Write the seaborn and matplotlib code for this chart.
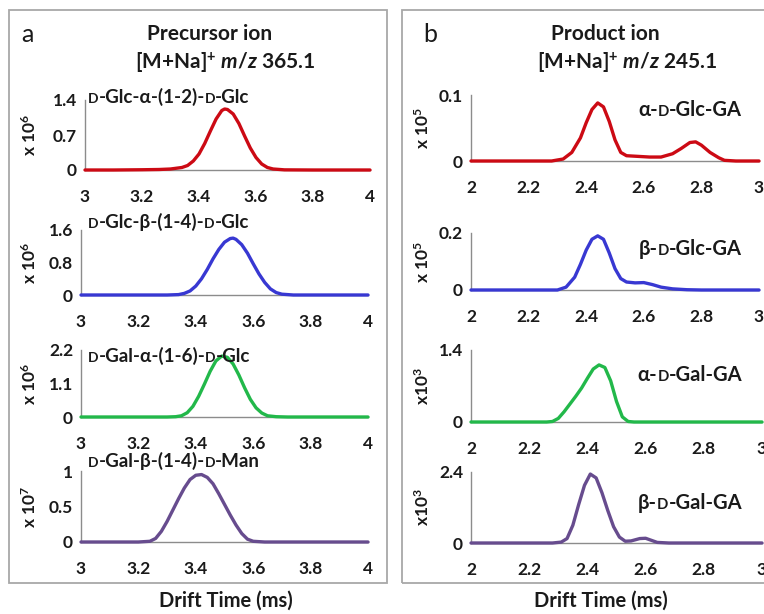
import numpy as np
import pandas as pd
import seaborn as sns
import matplotlib
matplotlib.use("Agg")
import matplotlib.pyplot as plt
from matplotlib.patches import Rectangle
from matplotlib.offsetbox import TextArea, HPacker, AnnotationBbox

# ---------------- data ----------------
# (a) precursor ion [M+Na]+ m/z 365.1, drift time (ms) vs intensity
a1_name = "D-Glc-α-(1-2)-D-Glc"
a1_t = [3.00, 3.10, 3.20, 3.26, 3.30, 3.34, 3.36, 3.38, 3.40, 3.42, 3.44, 3.46, 3.48, 3.49,
        3.50, 3.52, 3.54, 3.56, 3.58, 3.60, 3.62, 3.64, 3.66, 3.70, 3.80, 4.00]
a1_i = [0.0, 0.0, 0.005, 0.01, 0.02, 0.05, 0.09, 0.18, 0.32, 0.53, 0.78, 1.02, 1.19, 1.22,
        1.21, 1.12, 0.93, 0.68, 0.44, 0.25, 0.12, 0.05, 0.02, 0.003, 0.0, 0.0]

a2_name = "D-Glc-β-(1-4)-D-Glc"
a2_t = [3.00, 3.30, 3.34, 3.36, 3.38, 3.40, 3.42, 3.44, 3.46, 3.48, 3.50, 3.52, 3.53, 3.54,
        3.56, 3.58, 3.60, 3.62, 3.64, 3.66, 3.68, 3.70, 3.74, 4.00]
a2_i = [0.0, 0.0, 0.01, 0.04, 0.10, 0.22, 0.40, 0.63, 0.89, 1.12, 1.30, 1.39, 1.40, 1.37,
        1.24, 1.03, 0.77, 0.52, 0.31, 0.15, 0.06, 0.02, 0.0, 0.0]

a3_name = "D-Gal-α-(1-6)-D-Glc"
a3_t = [3.00, 3.30, 3.33, 3.35, 3.37, 3.39, 3.41, 3.43, 3.45, 3.47, 3.49, 3.51, 3.53, 3.55,
        3.57, 3.59, 3.61, 3.63, 3.65, 3.68, 3.72, 4.00]
a3_i = [0.0, 0.0, 0.01, 0.04, 0.14, 0.35, 0.68, 1.08, 1.50, 1.84, 2.00, 1.96, 1.74, 1.38,
        0.96, 0.58, 0.30, 0.13, 0.04, 0.01, 0.0, 0.0]

a4_name = "D-Gal-β-(1-4)-D-Man"
a4_t = [3.00, 3.20, 3.24, 3.26, 3.28, 3.30, 3.32, 3.34, 3.36, 3.38, 3.40, 3.42, 3.44, 3.46,
        3.48, 3.50, 3.52, 3.54, 3.56, 3.58, 3.60, 3.64, 4.00]
a4_i = [0.0, 0.0, 0.01, 0.05, 0.15, 0.29, 0.45, 0.61, 0.76, 0.88, 0.94, 0.95, 0.91, 0.82,
        0.68, 0.53, 0.38, 0.24, 0.12, 0.04, 0.01, 0.0, 0.0]

# (b) product ion [M+Na]+ m/z 245.1
b1_name = "α-D-Glc-GA"
b1_t = [2.00, 2.28, 2.32, 2.35, 2.38, 2.40, 2.42, 2.44, 2.46, 2.48, 2.50, 2.52, 2.54, 2.58,
        2.62, 2.66, 2.70, 2.73, 2.76, 2.78, 2.80, 2.83, 2.86, 2.88, 2.92, 3.00]
b1_i = [0.0, 0.0, 0.003, 0.013, 0.035, 0.058, 0.078, 0.088, 0.082, 0.060, 0.032, 0.013, 0.008,
        0.007, 0.006, 0.006, 0.011, 0.019, 0.028, 0.029, 0.024, 0.013, 0.005, 0.001, 0.0, 0.0]

b2_name = "β-D-Glc-GA"
b2_t = [2.00, 2.30, 2.33, 2.36, 2.38, 2.40, 2.42, 2.44, 2.46, 2.48, 2.50, 2.52, 2.54, 2.57,
        2.60, 2.63, 2.66, 2.70, 2.75, 2.80, 3.00]
b2_i = [0.0, 0.0, 0.01, 0.045, 0.09, 0.14, 0.178, 0.19, 0.178, 0.13, 0.075, 0.04, 0.028,
        0.025, 0.026, 0.019, 0.01, 0.004, 0.001, 0.0, 0.0]

b3_name = "α-D-Gal-GA"
b3_t = [2.00, 2.26, 2.28, 2.30, 2.32, 2.34, 2.36, 2.38, 2.40, 2.42, 2.44, 2.46, 2.48, 2.50,
        2.52, 2.54, 2.56, 3.00]
b3_i = [0.0, 0.0, 0.01, 0.07, 0.20, 0.35, 0.50, 0.66, 0.85, 1.03, 1.11, 1.06, 0.80, 0.40,
        0.10, 0.01, 0.0, 0.0]

b4_name = "β-D-Gal-GA"
b4_t = [2.00, 2.28, 2.31, 2.33, 2.35, 2.37, 2.39, 2.41, 2.43, 2.45, 2.47, 2.49, 2.51, 2.53,
        2.55, 2.58, 2.60, 2.62, 2.64, 2.68, 3.00]
b4_i = [0.0, 0.0, 0.03, 0.15, 0.60, 1.30, 1.95, 2.33, 2.20, 1.70, 1.10, 0.55, 0.20, 0.06,
        0.07, 0.15, 0.16, 0.09, 0.02, 0.0, 0.0]

a_xticks = [3, 3.2, 3.4, 3.6, 3.8, 4]
a_xticklabels = ["3", "3.2", "3.4", "3.6", "3.8", "4"]
b_xticks = [2, 2.2, 2.4, 2.6, 2.8, 3]
b_xticklabels = ["2", "2.2", "2.4", "2.6", "2.8", "3"]

a_yticks = [[0, 0.7, 1.4], [0, 0.8, 1.6], [0, 1.1, 2.2], [0, 0.5, 1]]
a_yticklabels = [["0", "0.7", "1.4"], ["0", "0.8", "1.6"], ["0", "1.1", "2.2"], ["0", "0.5", "1"]]
b_yticks = [[0, 0.1], [0, 0.2], [0, 1.4], [0, 2.4]]
b_yticklabels = [["0", "0.1"], ["0", "0.2"], ["0", "1.4"], ["0", "2.4"]]

a_scales = ["x 10$^6$", "x 10$^6$", "x 10$^6$", "x 10$^7$"]
b_scales = ["x 10$^5$", "x 10$^5$", "x10$^3$", "x10$^3$"]

colors = ["#CC0A14", "#3838D2", "#22B84A", "#674C8E"]

# ---------------- style ----------------
sns.set_theme(style="white")
plt.rcParams["font.family"] = ["Lato", "DejaVu Sans"]
plt.rcParams["font.weight"] = "bold"
plt.rcParams["mathtext.fontset"] = "custom"
plt.rcParams["mathtext.rm"] = "Lato:bold"
plt.rcParams["mathtext.bf"] = "Lato:bold"
plt.rcParams["mathtext.it"] = "Lato:bold:italic"

W, H = 764, 614
fig = plt.figure(figsize=(W / 100, H / 100), dpi=100)
fig.patch.set_facecolor("white")

AXIS_GRAY = "#8C8C8C"
TEXT = "#1A1A1A"
TICK_SIZE = 12.5


def fx(px):
    return px / W


def fy(py):
    return 1 - py / H


def add_axes(x0, x1, ytop, ybot):
    return fig.add_axes([fx(x0), fy(ybot), fx(x1 - x0), (ybot - ytop) / H])


def name_label(text, x_px, y_px, size, ha="left"):
    """Compound name with small-capital D."""
    parts = text.split("D")
    boxes = []
    for k, p in enumerate(parts):
        if k > 0:
            boxes.append(TextArea("D", textprops=dict(fontsize=size * 0.74, fontweight="bold",
                                                      color=TEXT, family=["Lato", "DejaVu Sans"])))
        if p:
            boxes.append(TextArea(p, textprops=dict(fontsize=size, fontweight="bold",
                                                    color=TEXT, family=["Lato", "DejaVu Sans"])))
    pack = HPacker(children=boxes, align="baseline", pad=0, sep=0)
    align = (0, 0.5) if ha == "left" else (0.5, 0.5)
    ab = AnnotationBbox(pack, (fx(x_px), fy(y_px)), xycoords="figure fraction",
                        box_alignment=align, frameon=False, pad=0)
    fig.add_artist(ab)


def style_axes(ax, xlim, xticks, xticklabels, yticks, yticklabels):
    ax.set_xlim(*xlim)
    ax.set_ylim(yticks[0], yticks[-1])
    ax.set_xticks(xticks)
    ax.set_xticklabels(xticklabels)
    ax.set_yticks(yticks)
    ax.set_yticklabels(yticklabels)
    sns.despine(ax=ax)
    for s in ("left", "bottom"):
        ax.spines[s].set_color(AXIS_GRAY)
        ax.spines[s].set_linewidth(1.0)
    ax.tick_params(axis="both", direction="out", length=3.2, width=1.0, color=AXIS_GRAY,
                   labelsize=TICK_SIZE, labelcolor=TEXT)
    ax.tick_params(axis="x", pad=10.5)
    ax.tick_params(axis="y", pad=2.5)
    ax.set_xlabel("")
    ax.set_ylabel("")
    ax.patch.set_alpha(0)


def draw_trace(ax, t, i, color):
    df = pd.DataFrame({"t": t, "i": i})
    sns.lineplot(data=df, x="t", y="i", ax=ax, color=color, linewidth=2.4,
                 sort=False, estimator=None)
    for ln in ax.lines:
        ln.set_clip_on(False)
        ln.set_zorder(3)
        ln.set_solid_capstyle("round")
        ln.set_solid_joinstyle("round")


# ---------------- panel a ----------------
a_traces = [(a1_t, a1_i, a1_name), (a2_t, a2_i, a2_name), (a3_t, a3_i, a3_name), (a4_t, a4_i, a4_name)]
a_boxes = [(85, 370, 100, 170), (81, 368, 230, 295), (81, 368, 350, 417), (81, 368, 471, 542)]
a_name_y = [97, 222, 356, 461]
for k, ((t, i, nm), (x0, x1, yt, yb)) in enumerate(zip(a_traces, a_boxes)):
    ax = add_axes(x0, x1, yt, yb)
    draw_trace(ax, t, i, colors[k])
    style_axes(ax, (3, 4), a_xticks, a_xticklabels, a_yticks[k], a_yticklabels[k])
    fig.text(fx(30), fy((yt + yb) / 2), a_scales[k], rotation=90, ha="center", va="center",
             fontsize=12.5, fontweight="bold", color=TEXT)
    name_label(nm, 88, a_name_y[k], 13.5)

# ---------------- panel b ----------------
b_traces = [(b1_t, b1_i, b1_name), (b2_t, b2_i, b2_name), (b3_t, b3_i, b3_name), (b4_t, b4_i, b4_name)]
b_boxes = [(471, 759, 95, 161), (471, 759, 233, 290), (471, 762, 350, 422), (471, 762, 472, 543)]
b_name_y = [110, 249, 375, 503]
for k, ((t, i, nm), (x0, x1, yt, yb)) in enumerate(zip(b_traces, b_boxes)):
    ax = add_axes(x0, x1, yt, yb)
    draw_trace(ax, t, i, colors[k])
    style_axes(ax, (2, 3), b_xticks, b_xticklabels, b_yticks[k], b_yticklabels[k])
    fig.text(fx(423), fy((yt + yb) / 2), b_scales[k], rotation=90, ha="center", va="center",
             fontsize=12.5, fontweight="bold", color=TEXT)
    name_label(nm, 690, b_name_y[k], 14.5, ha="center")

# ---------------- titles, frames, axis titles ----------------
fig.text(fx(21), fy(34), "a", fontsize=18, fontweight="normal", ha="left", va="center", color=TEXT)
fig.text(fx(210), fy(34), "Precursor ion", fontsize=15, ha="center", va="center", color=TEXT)
fig.text(fx(225), fy(63), "[M+Na]$^{+}$ $\\mathit{m/z}$ 365.1", fontsize=15, ha="center",
         va="center", color=TEXT)
fig.text(fx(423), fy(34), "b", fontsize=18, fontweight="normal", ha="left", va="center", color=TEXT)
fig.text(fx(605), fy(34), "Product ion", fontsize=15, ha="center", va="center", color=TEXT)
fig.text(fx(627), fy(63), "[M+Na]$^{+}$ $\\mathit{m/z}$ 245.1", fontsize=15, ha="center",
         va="center", color=TEXT)

fig.text(fx(226), fy(601), "Drift Time (ms)", fontsize=14.5, ha="center", va="center", color=TEXT)
fig.text(fx(601), fy(601), "Drift Time (ms)", fontsize=14.5, ha="center", va="center", color=TEXT)

for (x0, y0, x1, y1) in [(9, 10, 387, 583), (402, 10, 790, 583)]:
    fig.add_artist(Rectangle((fx(x0), fy(y1)), fx(x1 - x0), (y1 - y0) / H,
                             transform=fig.transFigure, fill=False, edgecolor="#A8A8A8",
                             linewidth=1.3))

fig.savefig("out.png", dpi=100, facecolor="white")
